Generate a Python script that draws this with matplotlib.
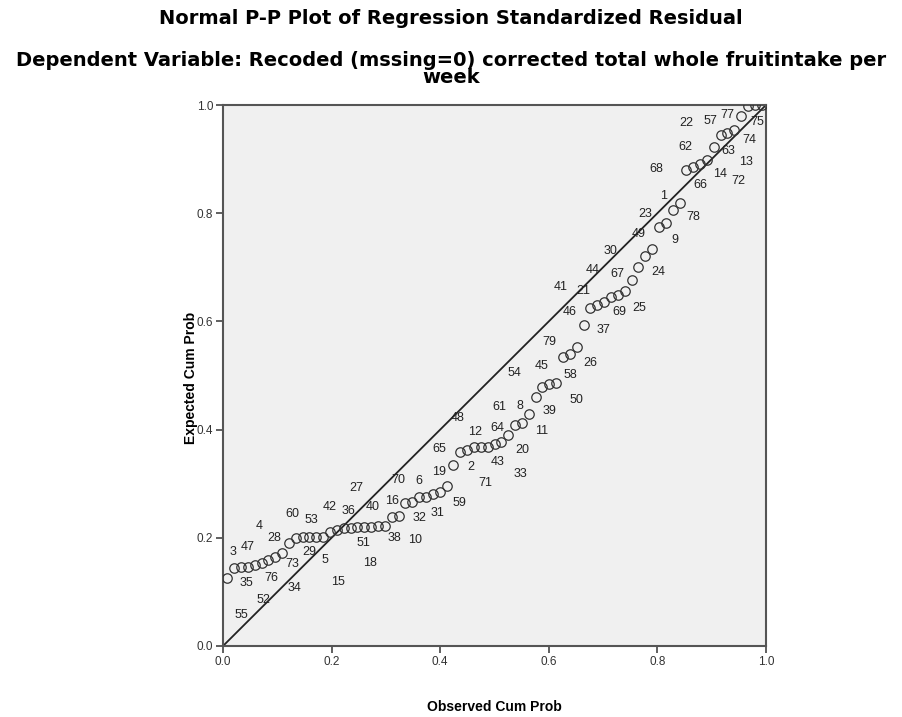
import matplotlib
matplotlib.use("Agg")
import matplotlib.pyplot as plt

# Observed cumulative probability (sorted residuals, 79 cases)
observed = [0.0079, 0.0205, 0.0331, 0.0457, 0.0584, 0.0710, 0.0836, 0.0962, 0.1088, 0.1215,
            0.1341, 0.1467, 0.1593, 0.1719, 0.1845, 0.1972, 0.2098, 0.2224, 0.2350, 0.2476,
            0.2603, 0.2729, 0.2855, 0.2981, 0.3107, 0.3233, 0.3360, 0.3486, 0.3612, 0.3738,
            0.3864, 0.3991, 0.4117, 0.4243, 0.4369, 0.4495, 0.4621, 0.4748, 0.4874, 0.5000,
            0.5126, 0.5252, 0.5379, 0.5505, 0.5631, 0.5757, 0.5883, 0.6009, 0.6136, 0.6262,
            0.6388, 0.6514, 0.6640, 0.6767, 0.6893, 0.7019, 0.7145, 0.7271, 0.7397, 0.7524,
            0.7650, 0.7776, 0.7902, 0.8028, 0.8155, 0.8281, 0.8407, 0.8533, 0.8659, 0.8785,
            0.8912, 0.9038, 0.9164, 0.9290, 0.9416, 0.9543, 0.9669, 0.9795, 0.9921]

# Expected cumulative probability
expected = [0.126, 0.144, 0.146, 0.146, 0.150, 0.153, 0.159, 0.165, 0.172, 0.190,
            0.200, 0.201, 0.201, 0.201, 0.202, 0.211, 0.215, 0.219, 0.219, 0.220,
            0.220, 0.220, 0.221, 0.222, 0.238, 0.240, 0.264, 0.267, 0.275, 0.275,
            0.281, 0.285, 0.296, 0.335, 0.359, 0.362, 0.368, 0.368, 0.368, 0.373,
            0.378, 0.390, 0.408, 0.412, 0.429, 0.460, 0.479, 0.484, 0.487, 0.535,
            0.540, 0.553, 0.593, 0.624, 0.630, 0.636, 0.646, 0.649, 0.656, 0.677,
            0.701, 0.720, 0.733, 0.775, 0.781, 0.805, 0.819, 0.880, 0.886, 0.891,
            0.898, 0.923, 0.945, 0.948, 0.953, 0.980, 0.998, 1.000, 1.000]

# case labels shown next to the points (last three are hidden in the chart)
case_labels = ["3", "55", "35", "47", "4", "52", "76", "28", "60", "73",
               "34", "29", "53", "5", "42", "15", "36", "27", "51", "18",
               "40", "16", "38", "70", "10", "6", "32", "31", "65", "19",
               "48", "59", "2", "12", "71", "64", "43", "61", "54", "8",
               "33", "20", "45", "11", "79", "39", "41", "46", "58", "50",
               "21", "26", "44", "37", "30", "67", "69", "49", "25", "23",
               "68", "24", "1", "9", "22", "62", "78", "66", "57", "14",
               "77", "63", "72", "13", "74", "75", "", "", ""]

tick_vals = [0.0, 0.2, 0.4, 0.6, 0.8, 1.0]

# label placement, pixel offsets from each point (dx right, dy up)
label_offsets = [(6, 26), (7, -47), (5, -16), (0, 20), (4, 39), (2, -37), (3, -18), (-1, 19), (10, 39), (3, -21),
                 (-1, -50), (7, -15), (2, 17), (9, -23), (7, 30), (8, -50), (12, 19), (13, 40), (13, -15), (13, -36),
                 (8, 20), (21, 26), (16, -12), (13, 46), (23, -23), (20, 35), (14, -15), (25, -11), (20, 48), (13, 25),
                 (25, 76), (20, -11), (24, 19), (22, 33), (25, -31), (30, 22), (24, -15), (19, 40), (27, 74), (25, 38),
                 (19, -32), (14, -15), (27, 59), (20, -8), (21, 72), (14, -14), (18, 100), (20, 72), (14, 8), (13, -43),
                 (13, 63), (14, -16), (9, 55), (13, -22), (13, 54), (13, 28), (8, -15), (21, 61), (15, -17), (14, 66),
                 (18, 98), (13, -16), (11, 53), (16, -13), (20, 100), (13, 63), (14, -14), (14, -15), (17, 46), (20, -10),
                 (20, 45), (15, -4), (18, -46), (19, -29), (15, -10), (16, -6), (0, 0), (0, 0), (0, 0)]

plt.rcParams['font.family'] = ['Liberation Sans', 'DejaVu Sans']

fig = plt.figure(figsize=(9.02, 7.17), dpi=100)
ax = fig.add_axes([223 / 902, 71 / 717, 543 / 902, 541 / 717])
ax.set_facecolor('#F0F0F0')

ax.plot([0, 1], [0, 1], color='#222222', lw=1.3, zorder=2)
ax.plot(observed, expected, linestyle='none', marker='o', markersize=6.8,
        markerfacecolor='none', markeredgecolor='#333333', markeredgewidth=0.9, zorder=3)

for x, y, lab, (dx, dy) in zip(observed, expected, case_labels, label_offsets):
    if lab:
        ax.annotate(lab, (x, y), xytext=(dx, dy), textcoords='offset pixels',
                    ha='center', va='center', fontsize=9, color='#222222', zorder=4)

ax.set_xlim(0, 1)
ax.set_ylim(0, 1)
ax.set_xticks(tick_vals)
ax.set_yticks(tick_vals)
ax.set_xticklabels([f"{t:.1f}" for t in tick_vals])
ax.set_yticklabels([f"{t:.1f}" for t in tick_vals])
ax.tick_params(direction='out', length=5, width=1.2, color='#444444',
               labelsize=8.5, labelcolor='#333333', pad=2)
for s in ax.spines.values():
    s.set_color('#555555')
    s.set_linewidth(1.5)

ax.set_xlabel('Observed Cum Prob', fontsize=10, fontweight='bold', labelpad=23)
ax.set_ylabel('Expected Cum Prob', fontsize=10, fontweight='bold')
ax.yaxis.set_label_coords(-0.046, 0.495)

title_font = ['DejaVu Sans']
fig.text(0.5, 1 - 18 / 717, 'Normal P-P Plot of Regression Standardized Residual',
         ha='center', va='center', fontsize=14, fontweight='bold', family=title_font)
fig.text(0.5, 1 - 69 / 717,
         'Dependent Variable: Recoded (mssing=0) corrected total whole fruitintake per\nweek',
         ha='center', va='center', fontsize=14, fontweight='bold', family=title_font,
         linespacing=0.85)

fig.savefig('out.png', dpi=100)
